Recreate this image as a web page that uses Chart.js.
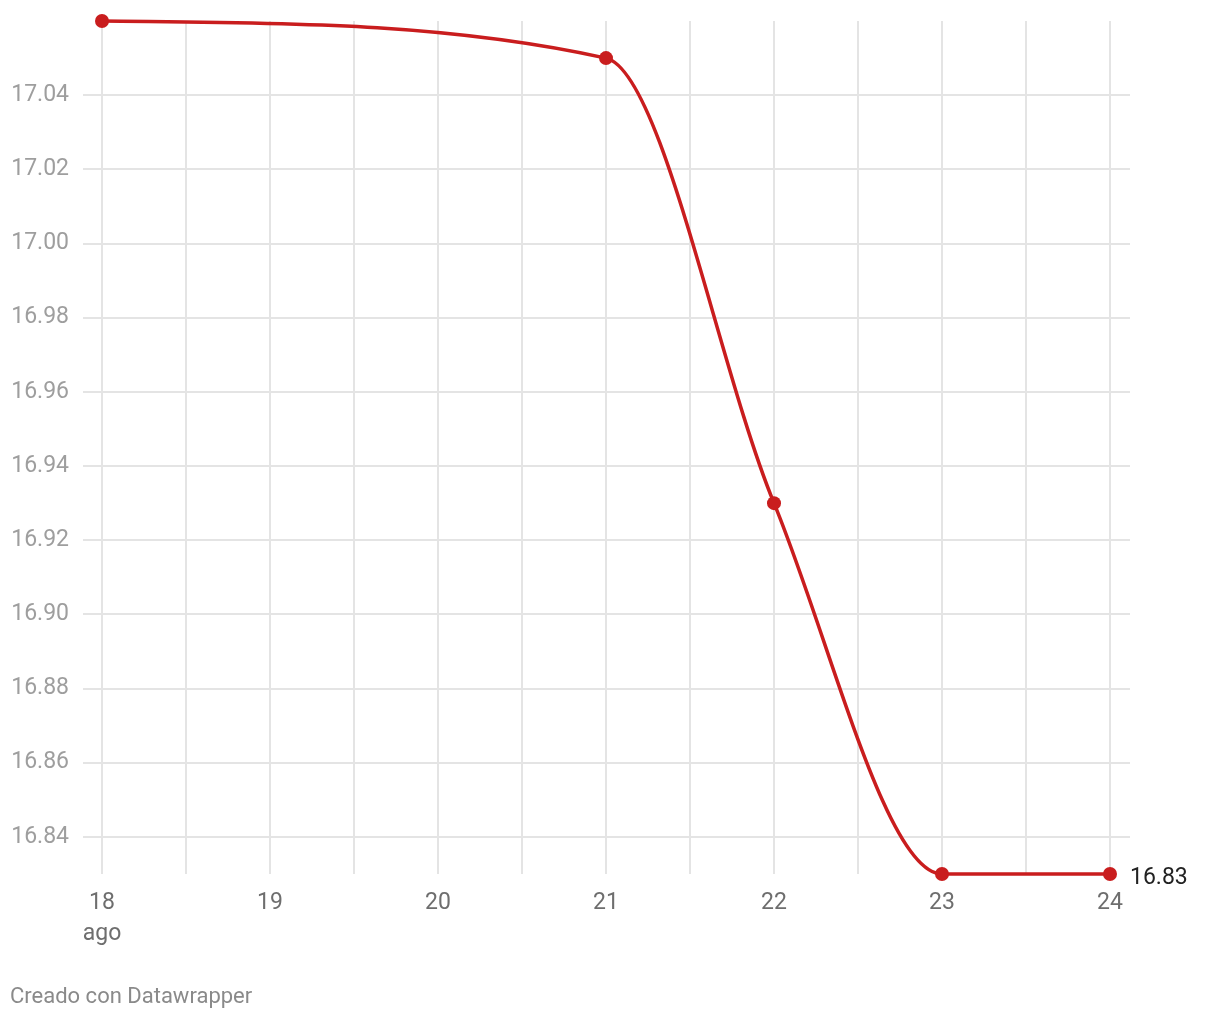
<!DOCTYPE html>
<html>
<head>
<meta charset="utf-8">
<script src="https://cdn.jsdelivr.net/npm/chart.js@4/dist/chart.umd.min.js"></script>
<style>
    body { margin: 0; background: #fff; }
    #wrap { position: relative; width: 1220px; height: 1020px; }
    #chart { position: absolute; left: 0; top: 0; }
    #footer {
        position: absolute; left: 10px; top: 983px;
        font-family: Roboto, sans-serif; font-size: 22px; color: #8a8a8a;
    }
</style>
</head>
<body>
<div id="wrap">
    <canvas id="chart" width="1220" height="1020"></canvas>
    <div id="footer">Creado con Datawrapper</div>
</div>
<script>
const dias = [18, 21, 22, 23, 24];
const valores = [17.06, 17.05, 16.93, 16.83, 16.83];
const yTicks = [16.84, 16.86, 16.88, 16.90, 16.92, 16.94, 16.96, 16.98, 17.00, 17.02, 17.04];
const mesLabel = 'ago';

const rojo = '#c91d1e';
const gridColor = '#e4e4e4';

// lineas horizontales que salen un poco del area del grafico
const hGrid = {
    id: 'hGrid',
    beforeDatasetsDraw(chart) {
        const { ctx, chartArea, scales } = chart;
        ctx.save();
        ctx.strokeStyle = gridColor;
        ctx.lineWidth = 2;
        yTicks.forEach(v => {
            const y = Math.round(scales.y.getPixelForValue(v));
            ctx.beginPath();
            ctx.moveTo(chartArea.left - 19, y);
            ctx.lineTo(chartArea.right + 20, y);
            ctx.stroke();
        });
        ctx.restore();
    }
};

// etiqueta del ultimo valor
const lastLabel = {
    id: 'lastLabel',
    afterDatasetsDraw(chart) {
        const { ctx, scales } = chart;
        const i = valores.length - 1;
        const x = scales.x.getPixelForValue(dias[i]);
        const y = scales.y.getPixelForValue(valores[i]);
        ctx.save();
        ctx.font = '23px Roboto';
        ctx.fillStyle = '#222';
        ctx.textAlign = 'left';
        ctx.textBaseline = 'middle';
        ctx.fillText(valores[i].toFixed(2), x + 20, y + 4);
        ctx.restore();
    }
};

const ctx = document.getElementById('chart').getContext('2d');
new Chart(ctx, {
    type: 'line',
    data: {
        datasets: [{
            data: dias.map((d, i) => ({ x: d, y: valores[i] })),
            borderColor: rojo,
            backgroundColor: rojo,
            borderWidth: 3.5,
            pointRadius: 7,
            pointBorderWidth: 0,
            pointBackgroundColor: rojo,
            cubicInterpolationMode: 'monotone',
            clip: false
        }]
    },
    options: {
        responsive: false,
        animation: false,
        devicePixelRatio: 1,
        layout: { padding: { left: 0, right: 110, top: 21, bottom: 0 } },
        plugins: { legend: { display: false }, tooltip: { enabled: false } },
        scales: {
            x: {
                type: 'linear',
                min: 18,
                max: 24,
                ticks: {
                    stepSize: 0.5,
                    autoSkip: false,
                    maxRotation: 0,
                    padding: 14,
                    color: '#6e6e6e',
                    font: { family: 'Roboto', size: 23, lineHeight: 1.35 },
                    callback: function(v) {
                        if (!Number.isInteger(v)) return '';
                        if (v === dias[0]) return [String(v), mesLabel];
                        return String(v);
                    }
                },
                grid: { color: gridColor, lineWidth: 2, drawTicks: false },
                border: { display: false },
                afterFit: function(scale) {
                    scale.height = 146;
                    scale.paddingLeft = 0;
                    scale.paddingRight = 0;
                }
            },
            y: {
                min: 16.83,
                max: 17.06,
                afterBuildTicks: function(scale) {
                    scale.ticks = yTicks.map(v => ({ value: v }));
                },
                ticks: {
                    padding: 25,
                    color: '#9e9e9e',
                    font: { family: 'Roboto', size: 23 },
                    callback: v => v.toFixed(2)
                },
                grid: { display: false },
                border: { display: false },
                afterFit: function(scale) {
                    scale.width = 102;
                    scale.paddingTop = 0;
                    scale.paddingBottom = 0;
                }
            }
        }
    },
    plugins: [hGrid, lastLabel]
});
</script>
</body>
</html>
